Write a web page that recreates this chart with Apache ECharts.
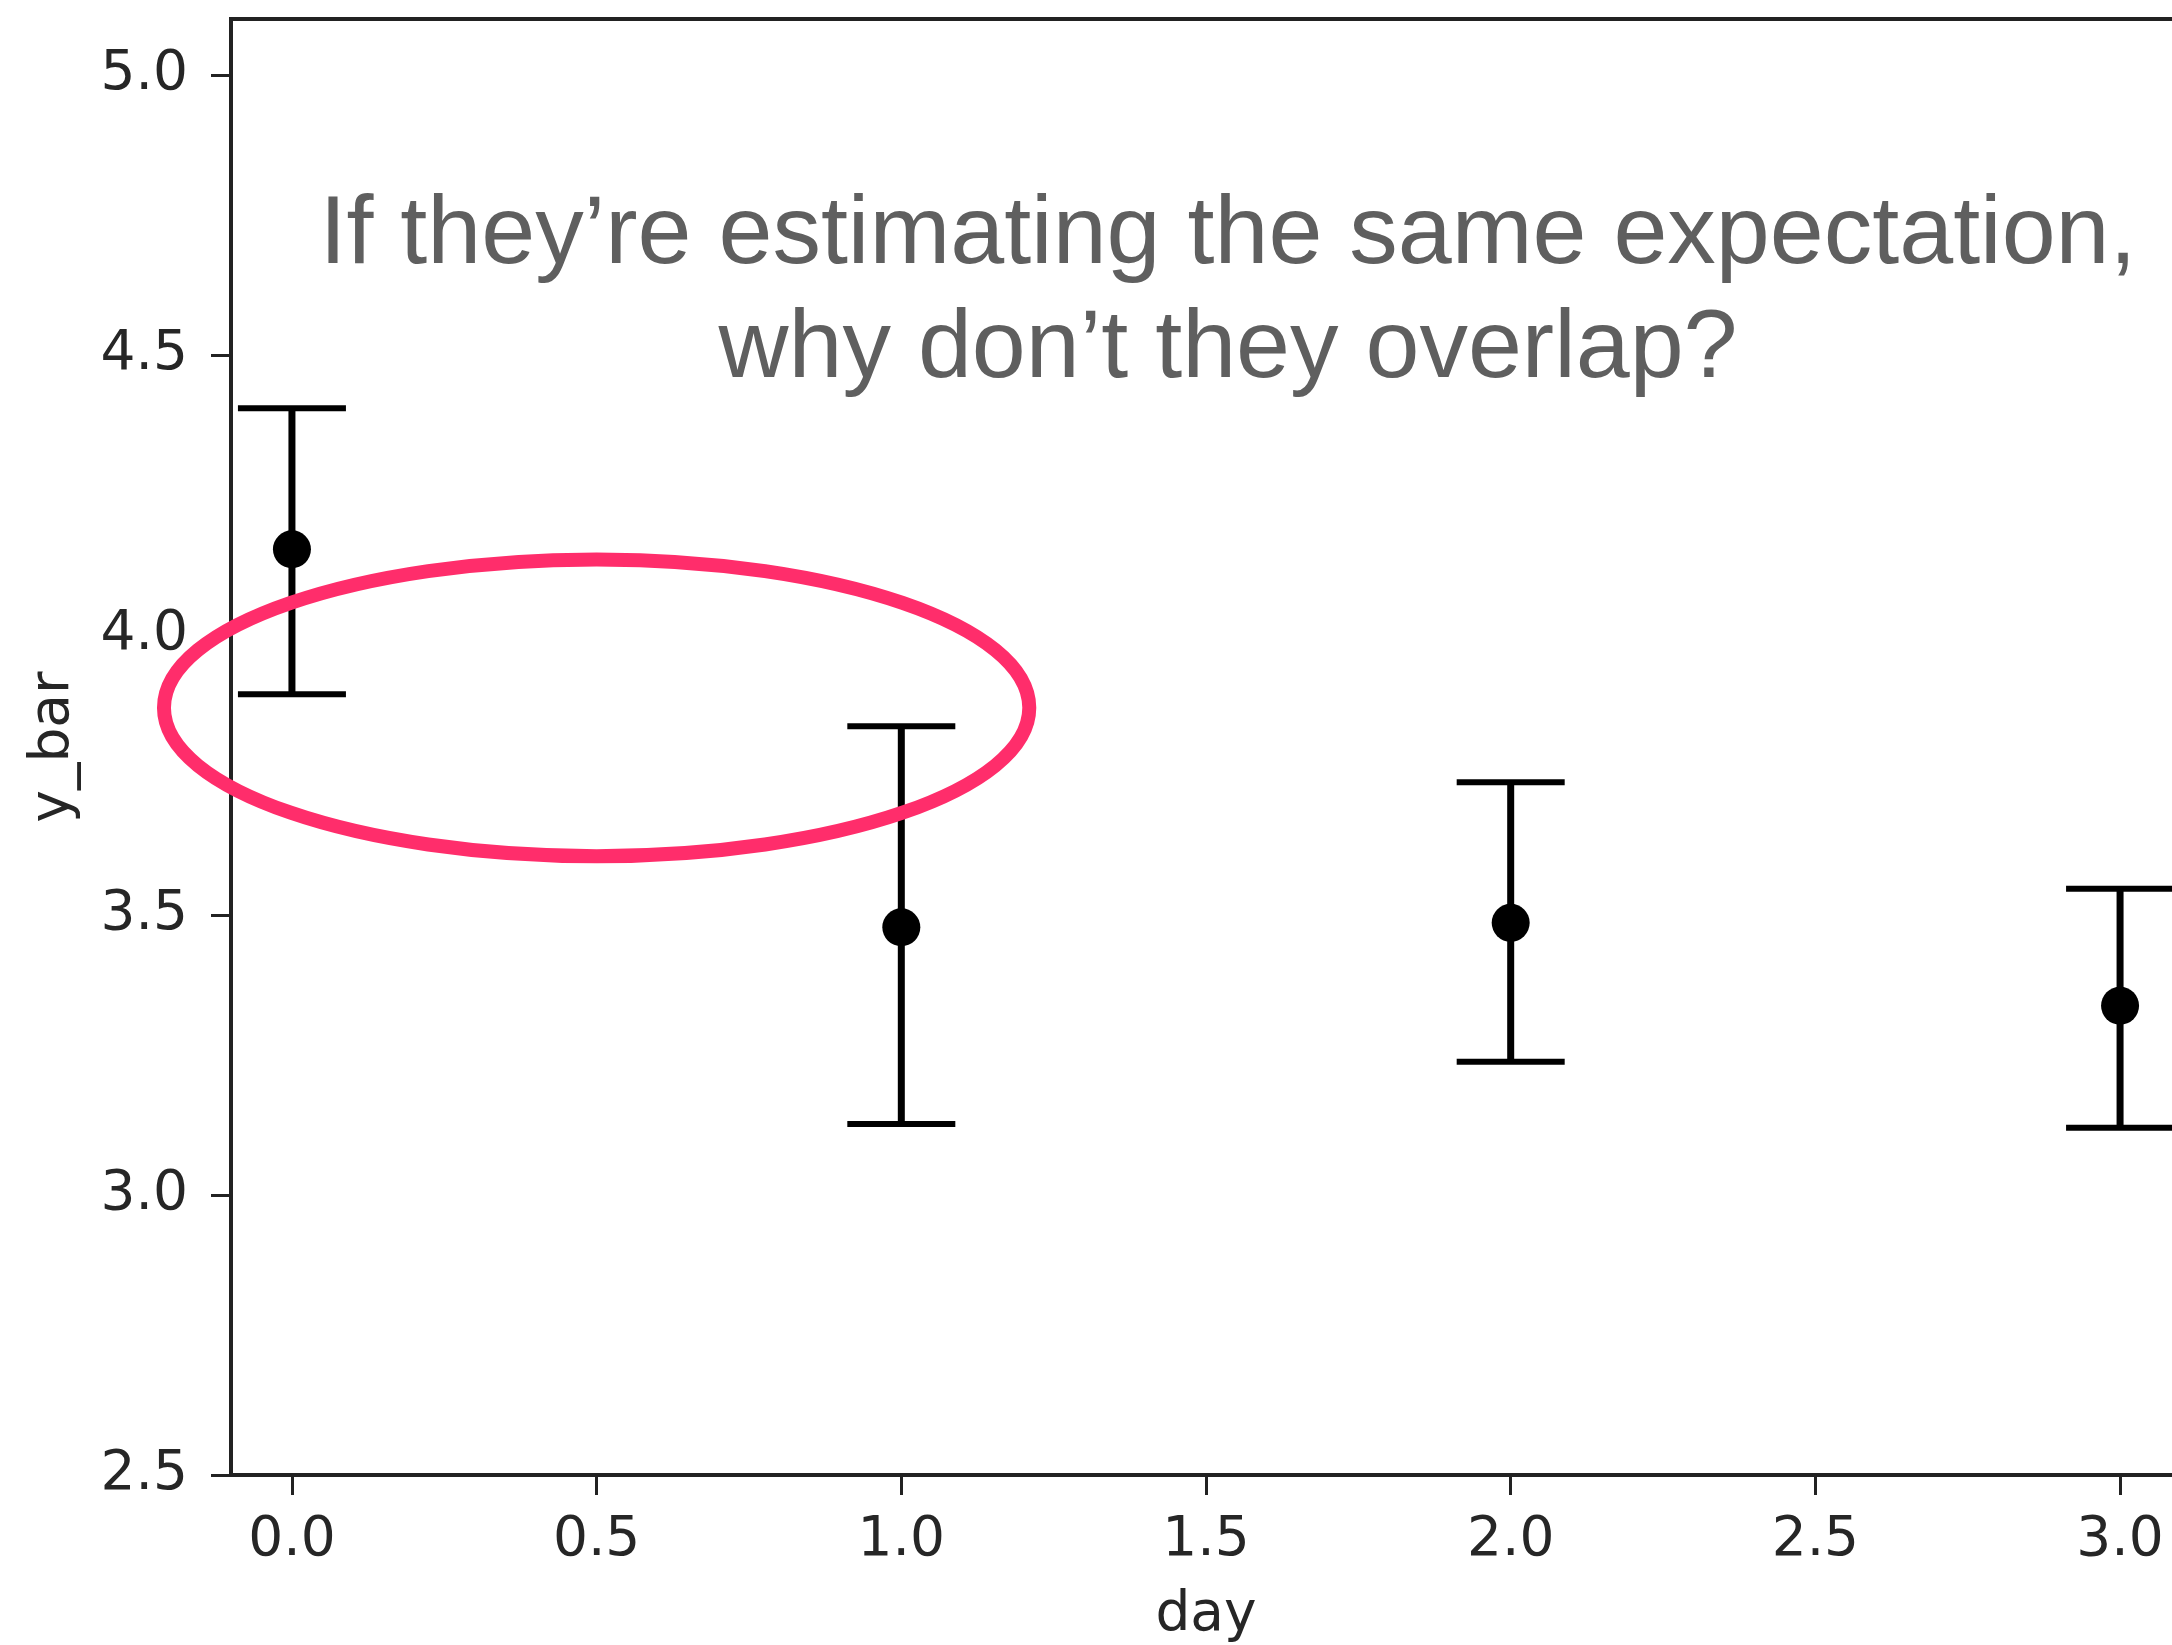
<!DOCTYPE html>
<html>
<head>
<meta charset="utf-8">
<script src="https://cdn.jsdelivr.net/npm/echarts@6/dist/echarts.min.js"></script>
<style>
  html, body { margin: 0; padding: 0; background: #fff; }
  #chart { width: 2172px; height: 1645px; }
</style>
</head>
<body>
<div id="chart"></div>
<script>
// data
var days = [0, 1, 2, 3];
var means = [4.153, 3.478, 3.486, 3.338];
var lowers = [3.894, 3.127, 3.238, 3.120];
var uppers = [4.405, 3.837, 3.737, 3.547];
var xTicks = [0, 0.5, 1, 1.5, 2, 2.5, 3];
var yTicks = [2.5, 3, 3.5, 4, 4.5, 5];
// annotation ellipse, in data units: centre x, centre y, radius x, radius y
var ellipse = [0.5, 3.87, 0.71, 0.265];
var noteLines = ["If they\u2019re estimating the same expectation,", "why don\u2019t they overlap?"];

(function() {
  var myChart = echarts.init(document.getElementById("chart"));
  var axisColor = "#222";
  var labelFont = "'DejaVu Sans', sans-serif";
  var noteFont = "'Liberation Sans', Arial, sans-serif";

  var barData = days.map(function(d, i) {
    return [d, means[i], lowers[i], uppers[i]];
  });
  var pointData = days.map(function(d, i) {
    return [d, means[i]];
  });

  var option = {
    animation: false,
    backgroundColor: "#fff",
    grid: {
      left: 231,
      top: 19,
      width: 1950,
      height: 1456,
      show: true,
      borderColor: axisColor,
      borderWidth: 4,
      containLabel: false,
      outerBoundsMode: "none"
    },
    xAxis: {
      type: "value",
      min: -0.1,
      max: 3.1,
      name: "day",
      nameLocation: "middle",
      nameGap: 113,
      nameTextStyle: { color: "#262626", fontSize: 55, fontFamily: labelFont },
      axisLine: { show: true, onZero: false, lineStyle: { color: axisColor, width: 4 } },
      axisTick: { show: true, length: 20, customValues: xTicks, lineStyle: { color: axisColor, width: 3 } },
      axisLabel: {
        customValues: xTicks,
        margin: 38,
        color: "#262626",
        fontSize: 55,
        fontFamily: labelFont,
        formatter: function(v) { return v.toFixed(1); }
      },
      splitLine: { show: false }
    },
    yAxis: {
      type: "value",
      min: 2.5,
      max: 5.1,
      name: "y_bar",
      nameLocation: "middle",
      nameRotate: 90,
      nameGap: 150,
      nameTextStyle: { color: "#262626", fontSize: 55, fontFamily: labelFont },
      axisLine: { show: true, onZero: false, lineStyle: { color: axisColor, width: 4 } },
      axisTick: { show: true, length: 20, customValues: yTicks, lineStyle: { color: axisColor, width: 3 } },
      axisLabel: {
        customValues: yTicks,
        margin: 43,
        color: "#262626",
        fontSize: 55,
        fontFamily: labelFont,
        formatter: function(v) { return v.toFixed(1); }
      },
      splitLine: { show: false }
    },
    graphic: noteLines.map(function(t, i) {
      return {
        type: "text",
        x: 1228,
        y: 236 + i * 114,
        z: 100,
        style: {
          text: t,
          fill: "#5f5f5f",
          font: "97px " + noteFont,
          align: "center",
          verticalAlign: "middle",
          textAlign: "center",
          textVerticalAlign: "middle"
        }
      };
    }),
    series: [
      {
        // error bars with caps
        type: "custom",
        data: barData,
        encode: { x: 0, y: [2, 3] },
        z: 2,
        renderItem: function(params, api) {
          var x = api.value(0);
          var lo = api.coord([x, api.value(2)]);
          var hi = api.coord([x, api.value(3)]);
          var cap = 54;
          var capStyle = { stroke: "#000", lineWidth: 6 };
          return {
            type: "group",
            children: [
              { type: "line", shape: { x1: lo[0], y1: lo[1], x2: hi[0], y2: hi[1] }, style: { stroke: "#000", lineWidth: 7 } },
              { type: "line", shape: { x1: hi[0] - cap, y1: hi[1], x2: hi[0] + cap, y2: hi[1] }, style: capStyle },
              { type: "line", shape: { x1: lo[0] - cap, y1: lo[1], x2: lo[0] + cap, y2: lo[1] }, style: capStyle }
            ]
          };
        }
      },
      {
        type: "scatter",
        data: pointData,
        symbol: "circle",
        symbolSize: 38,
        z: 3,
        itemStyle: { color: "#000", opacity: 1 }
      },
      {
        // pink ellipse annotation
        type: "custom",
        data: [ellipse],
        encode: { x: 0, y: 1 },
        z: 10,
        clip: false,
        renderItem: function(params, api) {
          var c = api.coord([api.value(0), api.value(1)]);
          var s = api.size([api.value(2), api.value(3)]);
          return {
            type: "ellipse",
            shape: { cx: c[0], cy: c[1], rx: s[0], ry: s[1] },
            style: { fill: "none", stroke: "#ff2d6b", lineWidth: 14 }
          };
        }
      }
    ]
  };

  myChart.setOption(option);
  window.addEventListener("resize", function() {
    myChart.resize();
  });
})();
</script>
</body>
</html>
